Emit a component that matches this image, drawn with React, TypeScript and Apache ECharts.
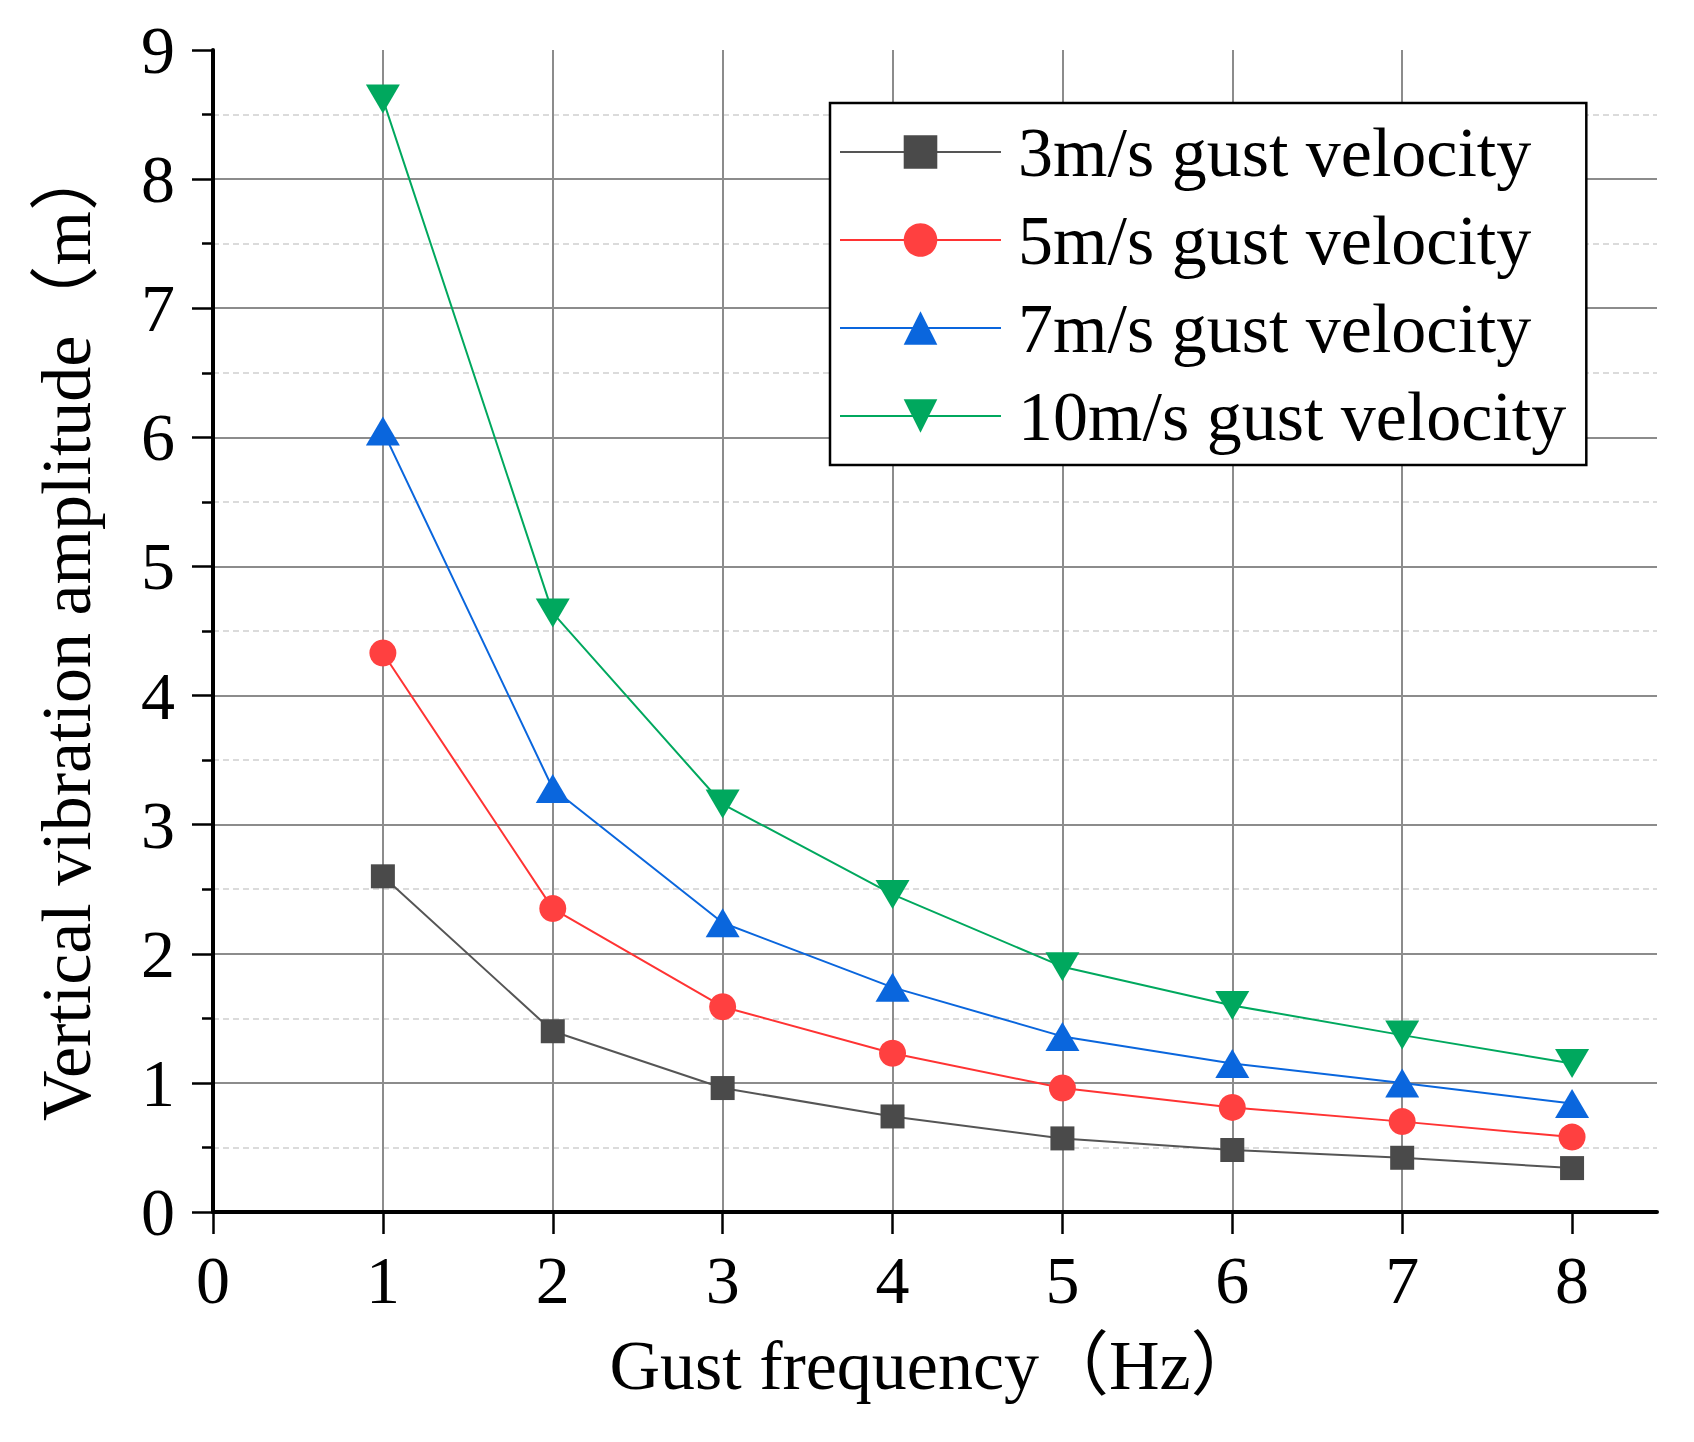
import { useEffect, useRef } from 'react';
import * as echarts from 'echarts';

const frequencies = [1, 2, 3, 4, 5, 6, 7, 8];
const xTicks = [0, 1, 2, 3, 4, 5, 6, 7, 8];
const gust3 = [2.6, 1.4, 0.96, 0.74, 0.57, 0.48, 0.42, 0.34];
const gust5 = [4.33, 2.35, 1.59, 1.23, 0.96, 0.81, 0.7, 0.58];
const gust7 = [6.05, 3.28, 2.24, 1.74, 1.36, 1.15, 1.0, 0.84];
const gust10 = [8.62, 4.64, 3.16, 2.46, 1.9, 1.6, 1.37, 1.15];

const seriesNames = [
  '3m/s gust velocity',
  '5m/s gust velocity',
  '7m/s gust velocity',
  '10m/s gust velocity',
];

const FONT = "'Liberation Serif', 'Times New Roman', 'Noto Sans CJK SC', serif";

const pairs = (vals: number[]) => frequencies.map((f, i) => [f, vals[i]]);

export default function App() {
  const chartRef = useRef<HTMLDivElement>(null);

  useEffect(() => {
    document.body.style.margin = '0';
    if (!chartRef.current) return;
    const chart = echarts.init(chartRef.current, null, { renderer: 'svg' });

    const option: echarts.EChartsOption = {
      animation: false,
      backgroundColor: '#ffffff',
      grid: { left: 213, right: 37, top: 50, bottom: 230, containLabel: false },
      legend: {
        orient: 'vertical',
        left: 830,
        top: 103,
        padding: [14, 20, 14, 9],
        itemGap: 18,
        itemWidth: 161,
        itemHeight: 42,
        backgroundColor: '#ffffff',
        borderColor: '#000000',
        borderWidth: 2.5,
        borderRadius: 0,
        textStyle: {
          fontFamily: FONT,
          fontSize: 70,
          lineHeight: 70,
          color: '#000000',
          padding: [0, 0, 0, 12],
        },
        data: seriesNames,
      },
      xAxis: {
        type: 'value',
        min: 0,
        max: 8.5,
        interval: 1,
        name: 'Gust frequency（Hz）',
        nameLocation: 'middle',
        nameGap: 118,
        nameTextStyle: { fontFamily: FONT, fontSize: 70, color: '#000000' },
        axisLine: { show: true, onZero: false, lineStyle: { color: '#000000', width: 4 } },
        axisTick: {
          show: true,
          length: 22,
          customValues: xTicks,
          lineStyle: { color: '#000000', width: 2.5 },
        },
        axisLabel: {
          customValues: xTicks,
          fontFamily: FONT,
          fontSize: 68,
          color: '#000000',
          margin: 34,
        },
        splitLine: {
          show: true,
          showMaxLine: false,
          showMinLine: false,
          lineStyle: { color: '#8c8c8c', width: 2 },
        },
      },
      yAxis: {
        type: 'value',
        min: 0,
        max: 9,
        interval: 1,
        name: 'Vertical vibration amplitude（m）',
        nameLocation: 'middle',
        nameGap: 112,
        nameTextStyle: { fontFamily: FONT, fontSize: 70, color: '#000000' },
        axisLine: { show: true, onZero: false, lineStyle: { color: '#000000', width: 4 } },
        axisTick: { show: true, length: 21, lineStyle: { color: '#000000', width: 2.5 } },
        minorTick: { show: true, splitNumber: 2, length: 11, lineStyle: { color: '#000000', width: 2.5 } },
        axisLabel: {
          fontFamily: FONT,
          fontSize: 68,
          color: '#000000',
          margin: 38,
        },
        splitLine: {
          show: true,
          showMaxLine: false,
          showMinLine: false,
          lineStyle: { color: '#8c8c8c', width: 2 },
        },
        minorSplitLine: {
          show: true,
          lineStyle: { color: '#cfcfcf', width: 1.5, type: [6, 4] },
        },
      },
      series: [
        {
          name: seriesNames[0],
          type: 'line',
          data: pairs(gust3),
          symbol: 'rect',
          symbolSize: 24,
          itemStyle: { color: '#4a4a4a' },
          lineStyle: { color: '#555555', width: 2 },
          z: 2,
        },
        {
          name: seriesNames[1],
          type: 'line',
          data: pairs(gust5),
          symbol: 'circle',
          symbolSize: 27,
          itemStyle: { color: '#ff4040' },
          lineStyle: { color: '#ff3333', width: 2 },
          z: 3,
        },
        {
          name: seriesNames[2],
          type: 'line',
          data: pairs(gust7),
          symbol: 'triangle',
          symbolSize: [34, 29],
          itemStyle: { color: '#0a66dd' },
          lineStyle: { color: '#0a66dd', width: 2 },
          z: 4,
        },
        {
          name: seriesNames[3],
          type: 'line',
          data: pairs(gust10),
          symbol: 'path://M0,0L10,0L5,10Z',
          symbolSize: [34, 29],
          itemStyle: { color: '#00a85e' },
          lineStyle: { color: '#00a85e', width: 2 },
          z: 5,
        },
      ],
    };

    chart.setOption(option);

    return () => {
      chart.dispose();
    };
  }, []);

  return <div ref={chartRef} style={{ width: 1694, height: 1442 }} />;
}
